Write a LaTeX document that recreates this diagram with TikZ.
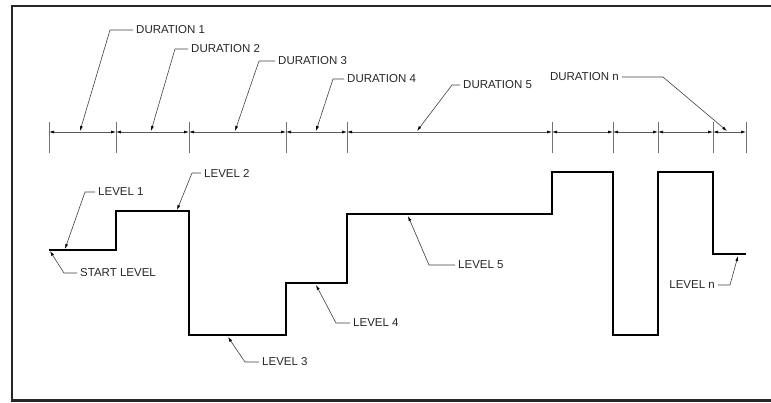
\documentclass[tikz,border=0pt]{standalone}
\usepackage{fontspec}
\setmainfont{Liberation Sans}
\usetikzlibrary{arrows.meta}
\begin{document}
\begin{tikzpicture}[x=1pt,y=-1pt,
  lbl/.style={font=\fontsize{11.5}{13}\selectfont, text=black!85, inner sep=3pt},
  lead/.style={draw=black!75, line width=0.6pt, -{Latex[length=5pt,width=3pt,color=black]}},
  dim/.style={draw=black!65, line width=0.6pt, {Latex[length=5pt,width=3pt,color=black]}-{Latex[length=5pt,width=3pt,color=black]}},
  ext/.style={draw=black!55, line width=0.8pt},
  wave/.style={draw=black, line width=2.4pt, line join=miter},
  frame/.style={draw=black!85, line width=2.6pt}
]
\useasboundingbox (0,0) rectangle (771,402);
\draw[frame] (12,6) rectangle (800,400.5);

% ticks
\foreach \n/\x in {1/49,2/116,3/189,4/286,5/347,6/552,7/613,8/658,9/713,10/746}{
  \coordinate (t\n) at (\x,132);
  \draw[ext] (\x,122) -- (\x,153);
}
\foreach \a/\b in {1/2,2/3,3/4,4/5,5/6,6/7,7/8,8/9,9/10}{
  \draw[dim] (t\a) -- (t\b);
}

% waveform
\draw[wave] (49,250) -- (116,250) -- (116,211) -- (189,211) -- (189,335) -- (286,335)
  -- (286,283) -- (347,283) -- (347,214) -- (552,214) -- (552,172) -- (613,172)
  -- (613,335) -- (658,335) -- (658,172) -- (713,172) -- (713,254) -- (746,254);

% duration labels
\node[lbl,anchor=west] (d1) at (133,30) {DURATION 1};
\node[lbl,anchor=west] (d2) at (188,49) {DURATION 2};
\node[lbl,anchor=west] (d3) at (275,61) {DURATION 3};
\node[lbl,anchor=west] (d4) at (344,79) {DURATION 4};
\node[lbl,anchor=west] (d5) at (460,85) {DURATION 5};
\node[lbl,anchor=east] (dn) at (622,77) {DURATION n};

\coordinate (k1) at (110,30);  \coordinate (p1) at (80,131);
\coordinate (k2) at (175,49);  \coordinate (p2) at (151,131);
\coordinate (k3) at (259,61);  \coordinate (p3) at (235,131);
\coordinate (k4) at (333,79);  \coordinate (p4) at (316,131);
\coordinate (k5) at (452,85);  \coordinate (p5) at (417,131);
\coordinate (kn) at (663,77);  \coordinate (pn) at (727,131);

\draw[lead] (d1.west) -- (k1) -- (p1);
\draw[lead] (d2.west) -- (k2) -- (p2);
\draw[lead] (d3.west) -- (k3) -- (p3);
\draw[lead] (d4.west) -- (k4) -- (p4);
\draw[lead] (d5.west) -- (k5) -- (p5);
\draw[lead] (dn.east) -- (kn) -- (pn);

% level labels
\node[lbl,anchor=west] (l1) at (95,192) {LEVEL 1};
\node[lbl,anchor=west] (l2) at (201,173) {LEVEL 2};
\node[lbl,anchor=west] (ls) at (77,273) {START LEVEL};
\node[lbl,anchor=west] (l3) at (259,362) {LEVEL 3};
\node[lbl,anchor=west] (l4) at (350,323) {LEVEL 4};
\node[lbl,anchor=west] (l5) at (455,265) {LEVEL 5};
\node[lbl,anchor=east] (ln) at (718,285) {LEVEL n};

\coordinate (m1) at (85,192);  \coordinate (q1) at (65,249);
\coordinate (m2) at (192,173); \coordinate (q2) at (177,210);
\coordinate (ms) at (64,273);  \coordinate (qs) at (50,251);
\coordinate (m3) at (245,362); \coordinate (q3) at (228,337);
\coordinate (m4) at (336,323); \coordinate (q4) at (316,285);
\coordinate (m5) at (429,265); \coordinate (q5) at (408,216);
\coordinate (mn) at (730,285); \coordinate (qn) at (738,256);

\draw[lead] (l1.west) -- (m1) -- (q1);
\draw[lead] (l2.west) -- (m2) -- (q2);
\draw[lead] (ls.west) -- (ms) -- (qs);
\draw[lead] (l3.west) -- (m3) -- (q3);
\draw[lead] (l4.west) -- (m4) -- (q4);
\draw[lead] (l5.west) -- (m5) -- (q5);
\draw[lead] (ln.east) -- (mn) -- (qn);
\end{tikzpicture}
\end{document}
